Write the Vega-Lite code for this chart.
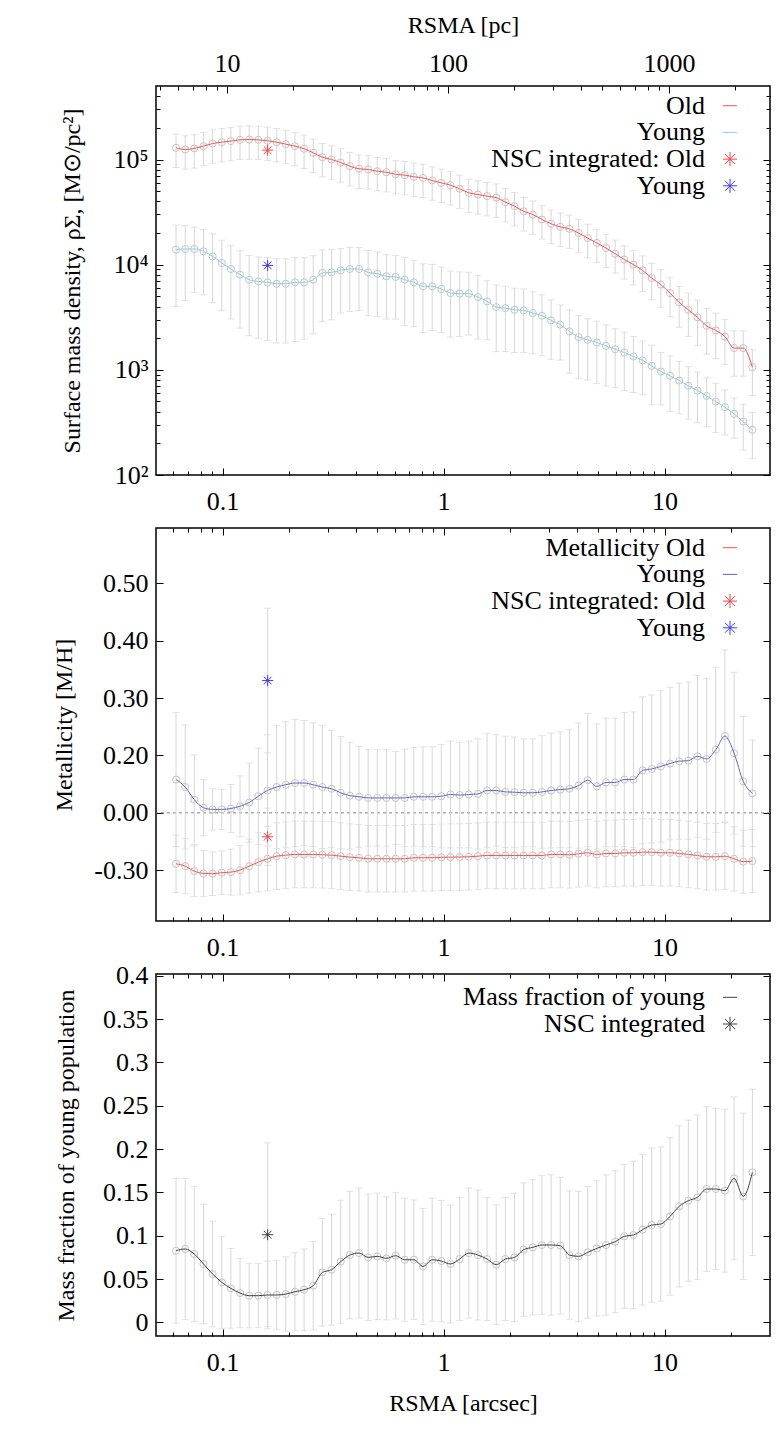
{
"$schema": "https://vega.github.io/schema/vega-lite/v6.json",
"background": "white",
"padding": {"left": 52, "top": 12, "right": 5, "bottom": 5},
"bounds": "flush",
"spacing": 53,
"resolve": {"scale": {"stroke": "independent", "shape": "independent"}, "legend": {"stroke": "independent", "shape": "independent"}},
"config": {
  "font": "Liberation Serif",
  "view": {"stroke": "#000000", "strokeWidth": 1.5},
  "axis": {"domain": false, "grid": false, "labelFont": "Liberation Serif", "labelFontSize": 26, "labelColor": "#000000", "titleFont": "Liberation Serif", "titleFontSize": 24, "titleFontWeight": "normal", "titleColor": "#000000", "tickColor": "#000000", "tickWidth": 1, "labelFlush": false, "labelOverlap": false, "labelBound": false},
  "legend": {"labelFont": "Liberation Serif", "labelFontSize": 26, "labelColor": "#000000"}
},
"datasets": {
  "dens": [
    {"r":0.0616,"old":129100,"oldErr":45200,"young":13900,"youngErr":9890},
    {"r":0.0678,"old":124500,"oldErr":43600,"young":14090,"youngErr":9520},
    {"r":0.0745,"old":127400,"oldErr":44600,"young":14090,"youngErr":8640},
    {"r":0.0820,"old":134000,"oldErr":46900,"young":13400,"youngErr":8220},
    {"r":0.0902,"old":141900,"oldErr":49700,"young":12000,"youngErr":7630},
    {"r":0.0992,"old":146200,"oldErr":51200,"young":10370,"youngErr":6700},
    {"r":0.1091,"old":149600,"oldErr":52400,"young":9100,"youngErr":6060},
    {"r":0.1200,"old":153800,"oldErr":53800,"young":8040,"youngErr":5550},
    {"r":0.1320,"old":154900,"oldErr":54200,"young":7190,"youngErr":5080},
    {"r":0.1452,"old":153800,"oldErr":53800,"young":6930,"youngErr":4930},
    {"r":0.1598,"old":150700,"oldErr":52700,"young":6790,"youngErr":4890},
    {"r":0.1758,"old":146200,"oldErr":51200,"young":6590,"youngErr":4790},
    {"r":0.1933,"old":140000,"oldErr":49000,"young":6590,"youngErr":4790},
    {"r":0.2127,"old":134000,"oldErr":46900,"young":6790,"youngErr":4930},
    {"r":0.2339,"old":126500,"oldErr":44300,"young":6790,"youngErr":4830},
    {"r":0.2573,"old":115900,"oldErr":40600,"young":7190,"youngErr":4990},
    {"r":0.2830,"old":105200,"oldErr":36800,"young":8340,"youngErr":5460},
    {"r":0.3114,"old":100000,"oldErr":35000,"young":8450,"youngErr":5460},
    {"r":0.3425,"old":93500,"oldErr":32700,"young":8830,"youngErr":5360},
    {"r":0.3767,"old":86500,"oldErr":30300,"young":9100,"youngErr":5510},
    {"r":0.4144,"old":81500,"oldErr":28500,"young":9100,"youngErr":5430},
    {"r":0.4559,"old":80400,"oldErr":28100,"young":8450,"youngErr":5180},
    {"r":0.5015,"old":77400,"oldErr":27100,"young":8200,"youngErr":4980},
    {"r":0.5516,"old":75700,"oldErr":26500,"young":7740,"youngErr":4700},
    {"r":0.6068,"old":72400,"oldErr":25300,"young":7640,"youngErr":4600},
    {"r":0.6674,"old":71000,"oldErr":24900,"young":7190,"youngErr":4570},
    {"r":0.7342,"old":68400,"oldErr":23900,"young":6790,"youngErr":4210},
    {"r":0.8076,"old":66800,"oldErr":23400,"young":6220,"youngErr":3960},
    {"r":0.8884,"old":63100,"oldErr":22100,"young":6220,"youngErr":3850},
    {"r":0.9772,"old":60000,"oldErr":21000,"young":5870,"youngErr":3610},
    {"r":1.0749,"old":57000,"oldErr":20000,"young":5370,"youngErr":3320},
    {"r":1.1824,"old":52700,"oldErr":18400,"young":5300,"youngErr":3230},
    {"r":1.3007,"old":48200,"oldErr":16900,"young":5300,"youngErr":3160},
    {"r":1.4307,"old":46500,"oldErr":16300,"young":4920,"youngErr":2960},
    {"r":1.5738,"old":44800,"oldErr":15700,"young":4480,"youngErr":2550},
    {"r":1.7312,"old":43400,"oldErr":15200,"young":3950,"youngErr":2460},
    {"r":1.9043,"old":39300,"oldErr":13800,"young":3860,"youngErr":2370},
    {"r":2.0948,"old":36000,"oldErr":12600,"young":3720,"youngErr":2260},
    {"r":2.3042,"old":32200,"oldErr":11300,"young":3670,"youngErr":2210},
    {"r":2.5347,"old":29900,"oldErr":10500,"young":3470,"youngErr":2050},
    {"r":2.7881,"old":26900,"oldErr":9400,"young":3270,"youngErr":1910},
    {"r":3.0669,"old":24500,"oldErr":8600,"young":2950,"youngErr":1690},
    {"r":3.3736,"old":22900,"oldErr":8000,"young":2690,"youngErr":1450},
    {"r":3.7110,"old":21900,"oldErr":7700,"young":2320,"youngErr":1390},
    {"r":4.0821,"old":20000,"oldErr":7000,"young":2050,"youngErr":1220},
    {"r":4.4903,"old":17900,"oldErr":6300,"young":1930,"youngErr":1130},
    {"r":4.9393,"old":16100,"oldErr":5600,"young":1820,"youngErr":1080},
    {"r":5.4333,"old":14400,"oldErr":5000,"young":1690,"youngErr":990},
    {"r":5.9766,"old":12700,"oldErr":4400,"young":1570,"youngErr":890},
    {"r":6.5742,"old":11200,"oldErr":3900,"young":1460,"youngErr":825},
    {"r":7.2317,"old":10000,"oldErr":3600,"young":1340,"youngErr":732},
    {"r":7.9548,"old":8830,"oldErr":3270,"young":1230,"youngErr":650},
    {"r":8.7503,"old":7460,"oldErr":2830,"young":1090,"youngErr":625},
    {"r":9.6253,"old":6460,"oldErr":2520,"young":964,"youngErr":500},
    {"r":10.588,"old":5370,"oldErr":2150,"young":877,"youngErr":476},
    {"r":11.647,"old":4380,"oldErr":1840,"young":791,"youngErr":410},
    {"r":12.811,"old":3720,"oldErr":1640,"young":705,"youngErr":366},
    {"r":14.092,"old":3160,"oldErr":1450,"young":635,"youngErr":320},
    {"r":15.502,"old":2620,"oldErr":1210,"young":565,"youngErr":277},
    {"r":17.052,"old":2370,"oldErr":1090,"young":499,"youngErr":246},
    {"r":18.757,"old":2070,"oldErr":950,"young":442,"youngErr":202},
    {"r":20.633,"old":1610,"oldErr":740,"young":381,"youngErr":157},
    {"r":22.696,"old":1610,"oldErr":740,"young":322,"youngErr":149},
    {"r":24.966,"old":1060,"oldErr":490,"young":269,"youngErr":125}
  ],
  "met": [
    {"r":0.0616,"old":-0.0887,"oldErr":0.050,"young":0.058,"youngErr":0.117},
    {"r":0.0678,"old":-0.0929,"oldErr":0.048,"young":0.045,"youngErr":0.108},
    {"r":0.0745,"old":-0.1016,"oldErr":0.044,"young":0.023,"youngErr":0.078},
    {"r":0.0820,"old":-0.1056,"oldErr":0.040,"young":0.009,"youngErr":0.049},
    {"r":0.0902,"old":-0.1061,"oldErr":0.038,"young":0.006,"youngErr":0.036},
    {"r":0.0992,"old":-0.1043,"oldErr":0.038,"young":0.006,"youngErr":0.035},
    {"r":0.1091,"old":-0.1033,"oldErr":0.040,"young":0.0075,"youngErr":0.042},
    {"r":0.1200,"old":-0.0998,"oldErr":0.043,"young":0.0115,"youngErr":0.053},
    {"r":0.1320,"old":-0.0929,"oldErr":0.047,"young":0.018,"youngErr":0.069},
    {"r":0.1452,"old":-0.0859,"oldErr":0.052,"young":0.029,"youngErr":0.084},
    {"r":0.1598,"old":-0.0800,"oldErr":0.056,"young":0.039,"youngErr":0.097},
    {"r":0.1758,"old":-0.0755,"oldErr":0.058,"young":0.045,"youngErr":0.107},
    {"r":0.1933,"old":-0.0737,"oldErr":0.058,"young":0.049,"youngErr":0.110},
    {"r":0.2127,"old":-0.0725,"oldErr":0.058,"young":0.052,"youngErr":0.111},
    {"r":0.2339,"old":-0.0725,"oldErr":0.058,"young":0.052,"youngErr":0.109},
    {"r":0.2573,"old":-0.0725,"oldErr":0.058,"young":0.049,"youngErr":0.108},
    {"r":0.2830,"old":-0.0730,"oldErr":0.058,"young":0.045,"youngErr":0.107},
    {"r":0.3114,"old":-0.0737,"oldErr":0.058,"young":0.042,"youngErr":0.102},
    {"r":0.3425,"old":-0.0755,"oldErr":0.058,"young":0.035,"youngErr":0.098},
    {"r":0.3767,"old":-0.0772,"oldErr":0.058,"young":0.030,"youngErr":0.093},
    {"r":0.4144,"old":-0.0783,"oldErr":0.058,"young":0.028,"youngErr":0.088},
    {"r":0.4559,"old":-0.0800,"oldErr":0.058,"young":0.026,"youngErr":0.084},
    {"r":0.5015,"old":-0.0800,"oldErr":0.058,"young":0.026,"youngErr":0.084},
    {"r":0.5516,"old":-0.0800,"oldErr":0.058,"young":0.026,"youngErr":0.084},
    {"r":0.6068,"old":-0.0800,"oldErr":0.058,"young":0.026,"youngErr":0.081},
    {"r":0.6674,"old":-0.0800,"oldErr":0.058,"young":0.026,"youngErr":0.085},
    {"r":0.7342,"old":-0.0783,"oldErr":0.058,"young":0.028,"youngErr":0.086},
    {"r":0.8076,"old":-0.0783,"oldErr":0.058,"young":0.028,"youngErr":0.087},
    {"r":0.8884,"old":-0.0783,"oldErr":0.058,"young":0.028,"youngErr":0.087},
    {"r":0.9772,"old":-0.0775,"oldErr":0.058,"young":0.029,"youngErr":0.090},
    {"r":1.0749,"old":-0.0772,"oldErr":0.058,"young":0.032,"youngErr":0.093},
    {"r":1.1824,"old":-0.0770,"oldErr":0.058,"young":0.031,"youngErr":0.092},
    {"r":1.3007,"old":-0.0766,"oldErr":0.058,"young":0.032,"youngErr":0.093},
    {"r":1.4307,"old":-0.0755,"oldErr":0.058,"young":0.033,"youngErr":0.096},
    {"r":1.5738,"old":-0.0743,"oldErr":0.058,"young":0.039,"youngErr":0.099},
    {"r":1.7312,"old":-0.0743,"oldErr":0.058,"young":0.039,"youngErr":0.097},
    {"r":1.9043,"old":-0.0743,"oldErr":0.058,"young":0.0365,"youngErr":0.097},
    {"r":2.0948,"old":-0.0743,"oldErr":0.058,"young":0.036,"youngErr":0.096},
    {"r":2.3042,"old":-0.0743,"oldErr":0.058,"young":0.035,"youngErr":0.094},
    {"r":2.5347,"old":-0.0743,"oldErr":0.058,"young":0.035,"youngErr":0.094},
    {"r":2.7881,"old":-0.0743,"oldErr":0.058,"young":0.0365,"youngErr":0.098},
    {"r":3.0669,"old":-0.0725,"oldErr":0.058,"young":0.039,"youngErr":0.100},
    {"r":3.3736,"old":-0.0725,"oldErr":0.058,"young":0.0405,"youngErr":0.101},
    {"r":3.7110,"old":-0.0731,"oldErr":0.058,"young":0.042,"youngErr":0.103},
    {"r":4.0821,"old":-0.0713,"oldErr":0.058,"young":0.0475,"youngErr":0.109},
    {"r":4.4903,"old":-0.0696,"oldErr":0.058,"young":0.057,"youngErr":0.116},
    {"r":4.9393,"old":-0.0725,"oldErr":0.058,"young":0.046,"youngErr":0.109},
    {"r":5.4333,"old":-0.0708,"oldErr":0.058,"young":0.053,"youngErr":0.112},
    {"r":5.9766,"old":-0.0708,"oldErr":0.058,"young":0.053,"youngErr":0.112},
    {"r":6.5742,"old":-0.0696,"oldErr":0.058,"young":0.058,"youngErr":0.117},
    {"r":7.2317,"old":-0.0696,"oldErr":0.058,"young":0.058,"youngErr":0.118},
    {"r":7.9548,"old":-0.0685,"oldErr":0.058,"young":0.074,"youngErr":0.128},
    {"r":8.7503,"old":-0.0685,"oldErr":0.058,"young":0.0765,"youngErr":0.129},
    {"r":9.6253,"old":-0.0696,"oldErr":0.058,"young":0.081,"youngErr":0.132},
    {"r":10.588,"old":-0.0696,"oldErr":0.058,"young":0.086,"youngErr":0.133},
    {"r":11.647,"old":-0.0708,"oldErr":0.058,"young":0.090,"youngErr":0.136},
    {"r":12.811,"old":-0.0725,"oldErr":0.058,"young":0.091,"youngErr":0.137},
    {"r":14.092,"old":-0.0743,"oldErr":0.058,"young":0.0985,"youngErr":0.141},
    {"r":15.502,"old":-0.0766,"oldErr":0.058,"young":0.094,"youngErr":0.140},
    {"r":17.052,"old":-0.0766,"oldErr":0.058,"young":0.110,"youngErr":0.144},
    {"r":18.757,"old":-0.0755,"oldErr":0.058,"young":0.134,"youngErr":0.150},
    {"r":20.633,"old":-0.0800,"oldErr":0.056,"young":0.104,"youngErr":0.141},
    {"r":22.696,"old":-0.0852,"oldErr":0.055,"young":0.055,"youngErr":0.113},
    {"r":24.966,"old":-0.0841,"oldErr":0.055,"young":0.034,"youngErr":0.093}
  ],
  "frac": [
    {"r":0.0616,"f":0.0827,"fErr":0.0835},{"r":0.0678,"f":0.0847,"fErr":0.0815},{"r":0.0745,"f":0.0789,"fErr":0.078},{"r":0.0820,"f":0.0674,"fErr":0.069},
    {"r":0.0902,"f":0.0558,"fErr":0.061},{"r":0.0992,"f":0.0462,"fErr":0.053},{"r":0.1091,"f":0.0393,"fErr":0.046},{"r":0.1200,"f":0.0339,"fErr":0.040},
    {"r":0.1320,"f":0.0308,"fErr":0.037},{"r":0.1452,"f":0.0308,"fErr":0.037},{"r":0.1598,"f":0.0316,"fErr":0.039},{"r":0.1758,"f":0.0316,"fErr":0.040},
    {"r":0.1933,"f":0.0327,"fErr":0.043},{"r":0.2127,"f":0.0354,"fErr":0.045},{"r":0.2339,"f":0.0377,"fErr":0.047},{"r":0.2573,"f":0.0424,"fErr":0.051},
    {"r":0.2830,"f":0.0577,"fErr":0.062},{"r":0.3114,"f":0.0608,"fErr":0.064},{"r":0.3425,"f":0.0700,"fErr":0.071},{"r":0.3767,"f":0.0777,"fErr":0.0735},
    {"r":0.4144,"f":0.0800,"fErr":0.075},{"r":0.4559,"f":0.0750,"fErr":0.073},{"r":0.5015,"f":0.0762,"fErr":0.073},{"r":0.5516,"f":0.0739,"fErr":0.071},
    {"r":0.6068,"f":0.0770,"fErr":0.073},{"r":0.6674,"f":0.0723,"fErr":0.071},{"r":0.7342,"f":0.0723,"fErr":0.069},{"r":0.8076,"f":0.0646,"fErr":0.067},
    {"r":0.8884,"f":0.0723,"fErr":0.071},{"r":0.9772,"f":0.0708,"fErr":0.070},{"r":1.0749,"f":0.0674,"fErr":0.068},{"r":1.1824,"f":0.0731,"fErr":0.071},
    {"r":1.3007,"f":0.0800,"fErr":0.075},{"r":1.4307,"f":0.0777,"fErr":0.075},{"r":1.5738,"f":0.0731,"fErr":0.071},{"r":1.7312,"f":0.0666,"fErr":0.069},
    {"r":1.9043,"f":0.0731,"fErr":0.071},{"r":2.0948,"f":0.0750,"fErr":0.074},{"r":2.3042,"f":0.0839,"fErr":0.077},{"r":2.5347,"f":0.0866,"fErr":0.078},
    {"r":2.7881,"f":0.0893,"fErr":0.080},{"r":3.0669,"f":0.0893,"fErr":0.081},{"r":3.3736,"f":0.0885,"fErr":0.079},{"r":3.7110,"f":0.0777,"fErr":0.074},
    {"r":4.0821,"f":0.0762,"fErr":0.075},{"r":4.4903,"f":0.0808,"fErr":0.076},{"r":4.9393,"f":0.0854,"fErr":0.078},{"r":5.4333,"f":0.0893,"fErr":0.081},
    {"r":5.9766,"f":0.0931,"fErr":0.082},{"r":6.5742,"f":0.0993,"fErr":0.083},{"r":7.2317,"f":0.1008,"fErr":0.085},{"r":7.9548,"f":0.1070,"fErr":0.087},
    {"r":8.7503,"f":0.1123,"fErr":0.089},{"r":9.6253,"f":0.1135,"fErr":0.089},{"r":10.588,"f":0.1223,"fErr":0.091},{"r":11.647,"f":0.1339,"fErr":0.093},
    {"r":12.811,"f":0.1404,"fErr":0.093},{"r":14.092,"f":0.1443,"fErr":0.095},{"r":15.502,"f":0.1539,"fErr":0.095},{"r":17.052,"f":0.1539,"fErr":0.093},
    {"r":18.757,"f":0.1520,"fErr":0.094},{"r":20.633,"f":0.1662,"fErr":0.094},{"r":22.696,"f":0.1454,"fErr":0.096},{"r":24.966,"f":0.1731,"fErr":0.096}
  ],
  "nscDens": [
    {"r":0.16,"s":"NSC integrated: Old","v":122700},
    {"r":0.16,"s":"NSC Young","v":9840}
  ],
  "nscMet": [
    {"r":0.16,"s":"NSC integrated: Old","v":-0.0417,"e":0.05},
    {"r":0.16,"s":"NSC Young","v":0.2306,"e":0.126}
  ],
  "nscFrac": [
    {"r":0.16,"s":"NSC integrated","v":0.1012,"e":0.106}
  ],
  "zeroLine": [{"z": 0}]
},
"vconcat": [
{
  "width": 614, "height": 389,
  "resolve": {"axis": {"x": "independent", "y": "independent"}},
  "layer": [
    {"data": {"name": "dens"}, "mark": {"type": "errorbar", "ticks": {"size": 7}, "color": "#d6d6d6"},
     "encoding": {
       "x": {"field": "r", "type": "quantitative", "scale": {"type": "log", "domain": [0.05, 30], "nice": false}, "axis": {"orient": "bottom", "values": [0.1, 1, 10], "tickSize": -7, "labelPadding": 20, "title": null, "labelExpr": "datum.value == 0.1 ? '0.1' : datum.value == 1 ? '1' : '10'"}},
       "y": {"field": "old", "type": "quantitative", "scale": {"type": "log", "domain": [100, 500000], "nice": false}, "axis": {"orient": "left", "values": [100, 1000, 10000, 100000], "tickSize": -7, "labelPadding": 15, "titlePadding": 28, "title": "Surface mass density, ρΣ, [M⊙/pc²]", "labelExpr": "datum.value == 100 ? '10²' : datum.value == 1000 ? '10³' : datum.value == 10000 ? '10⁴' : '10⁵'"}},
       "yError": {"field": "oldErr"}}},
    {"data": {"name": "dens"}, "mark": {"type": "errorbar", "ticks": {"size": 7}, "color": "#d6d6d6"},
     "encoding": {
       "x": {"field": "r", "type": "quantitative", "axis": {"orient": "bottom", "values": [0.06, 0.07, 0.08, 0.09, 0.2, 0.3, 0.4, 0.5, 0.6, 0.7, 0.8, 0.9, 2, 3, 4, 5, 6, 7, 8, 9, 20], "tickSize": -4, "labels": false, "title": null}},
       "y": {"field": "young", "type": "quantitative", "axis": {"orient": "left", "values": [200, 300, 400, 500, 600, 700, 800, 900, 2000, 3000, 4000, 5000, 6000, 7000, 8000, 9000, 20000, 30000, 40000, 50000, 60000, 70000, 80000, 90000, 200000, 300000, 400000], "tickSize": -4, "labels": false, "title": null}},
       "yError": {"field": "youngErr"}}},
    {"data": {"name": "dens"}, "mark": {"type": "point", "filled": false, "size": 50, "stroke": "#c4c4c4", "strokeWidth": 1, "opacity": 1},
     "encoding": {
       "x": {"field": "r", "type": "quantitative", "axis": {"orient": "top", "values": [0.104712, 1.04712, 10.4712], "tickSize": -7, "labelPadding": 17, "titlePadding": 13, "title": "RSMA [pc]", "labelExpr": "datum.value < 0.5 ? '10' : datum.value < 5 ? '100' : '1000'"}},
       "y": {"field": "old", "type": "quantitative", "axis": {"orient": "right", "values": [100, 1000, 10000, 100000], "tickSize": -7, "labels": false, "title": null}}}},
    {"data": {"name": "dens"}, "mark": {"type": "point", "filled": false, "size": 50, "stroke": "#c4c4c4", "strokeWidth": 1, "opacity": 1},
     "encoding": {
       "x": {"field": "r", "type": "quantitative", "axis": {"orient": "top", "values": [0.05236, 0.06283, 0.0733, 0.08377, 0.09424, 0.20942, 0.31414, 0.41885, 0.52356, 0.62827, 0.73298, 0.8377, 0.94241, 2.0942, 3.1414, 4.1885, 5.2356, 6.2827, 7.3298, 8.377, 9.4241, 20.942], "tickSize": -4, "labels": false, "title": null}},
       "y": {"field": "young", "type": "quantitative", "axis": {"orient": "right", "values": [200, 300, 400, 500, 600, 700, 800, 900, 2000, 3000, 4000, 5000, 6000, 7000, 8000, 9000, 20000, 30000, 40000, 50000, 60000, 70000, 80000, 90000, 200000, 300000, 400000], "tickSize": -4, "labels": false, "title": null}}}},
    {"data": {"name": "dens"}, "mark": {"type": "line", "interpolate": "monotone", "strokeWidth": 1},
     "encoding": {
       "x": {"field": "r", "type": "quantitative", "axis": null},
       "y": {"field": "old", "type": "quantitative", "axis": null},
       "stroke": {"datum": "Old", "type": "nominal", "scale": {"domain": ["Old", "Young", "NSC integrated: Old", "NSC Young"], "range": ["#ff5050", "#87ceeb", "#ff4040", "#3a3aff"]},
         "legend": {"orient": "none", "legendX": 561, "legendY": 6.7, "title": null, "labelAlign": "right", "labelOffset": -38, "symbolOffset": 0, "labelLimit": 0, "symbolSize": 200, "symbolStrokeWidth": 1, "rowPadding": 0.7, "labelExpr": "datum.label == 'NSC Young' ? 'Young' : datum.label"}}}},
    {"data": {"name": "dens"}, "mark": {"type": "line", "interpolate": "monotone", "strokeWidth": 1},
     "encoding": {
       "x": {"field": "r", "type": "quantitative", "axis": null},
       "y": {"field": "young", "type": "quantitative", "axis": null},
       "stroke": {"datum": "Young", "type": "nominal"}}},
    {"data": {"name": "nscDens"}, "mark": {"type": "point", "filled": false, "size": 121, "strokeWidth": 1, "opacity": 1},
     "encoding": {
       "x": {"field": "r", "type": "quantitative", "axis": null},
       "y": {"field": "v", "type": "quantitative", "axis": null},
       "stroke": {"field": "s", "type": "nominal"},
       "shape": {"field": "s", "type": "nominal", "scale": {"domain": ["Old", "Young", "NSC integrated: Old", "NSC Young"], "range": ["M-1,0L1,0", "M-1,0L1,0", "M-1,0L1,0M0,-1L0,1M-0.7,-0.7L0.7,0.7M-0.7,0.7L0.7,-0.7", "M-1,0L1,0M0,-1L0,1M-0.7,-0.7L0.7,0.7M-0.7,0.7L0.7,-0.7"]},
         "legend": {"orient": "none", "legendX": 561, "legendY": 6.7, "title": null, "labelAlign": "right", "labelOffset": -38, "symbolOffset": 0, "labelLimit": 0, "symbolSize": 200, "symbolStrokeWidth": 1, "rowPadding": 0.7, "labelExpr": "datum.label == 'NSC Young' ? 'Young' : datum.label"}}}}
  ]
},
{
  "width": 614, "height": 393,
  "resolve": {"axis": {"x": "independent", "y": "independent"}},
  "layer": [
    {"data": {"name": "zeroLine"}, "mark": {"type": "rule", "stroke": "#808080", "strokeDash": [3, 3], "strokeWidth": 1},
     "encoding": {"y": {"field": "z", "type": "quantitative", "scale": {"domain": [-0.1885, 0.4965], "nice": false, "zero": false}, "axis": null}}},
    {"data": {"name": "met"}, "mark": {"type": "errorbar", "ticks": {"size": 7}, "color": "#d6d6d6"},
     "encoding": {
       "x": {"field": "r", "type": "quantitative", "scale": {"type": "log", "domain": [0.05, 30], "nice": false}, "axis": {"orient": "bottom", "values": [0.1, 1, 10], "tickSize": -7, "labelPadding": 20, "title": null, "labelExpr": "datum.value == 0.1 ? '0.1' : datum.value == 1 ? '1' : '10'"}},
       "y": {"field": "old", "type": "quantitative", "axis": {"orient": "left", "values": [-0.1, 0, 0.1, 0.2, 0.3, 0.4], "tickSize": -7, "labelPadding": 15, "titlePadding": 17, "title": "Metallicity [M/H]", "labelExpr": "datum.value < -0.05 ? '-0.30' : datum.value < 0.05 ? '0.00' : datum.value < 0.15 ? '0.20' : datum.value < 0.25 ? '0.30' : datum.value < 0.35 ? '0.40' : '0.50'"}},
       "yError": {"field": "oldErr"}}},
    {"data": {"name": "met"}, "mark": {"type": "errorbar", "ticks": {"size": 7}, "color": "#d6d6d6"},
     "encoding": {
       "x": {"field": "r", "type": "quantitative", "axis": {"orient": "bottom", "values": [0.06, 0.07, 0.08, 0.09, 0.2, 0.3, 0.4, 0.5, 0.6, 0.7, 0.8, 0.9, 2, 3, 4, 5, 6, 7, 8, 9, 20], "tickSize": -4, "labels": false, "title": null}},
       "y": {"field": "young", "type": "quantitative", "axis": {"orient": "right", "values": [-0.1, 0, 0.1, 0.2, 0.3, 0.4], "tickSize": -7, "labels": false, "title": null}},
       "yError": {"field": "youngErr"}}},
    {"data": {"name": "nscMet"}, "mark": {"type": "errorbar", "ticks": {"size": 7}, "color": "#d6d6d6"},
     "encoding": {
       "x": {"field": "r", "type": "quantitative", "axis": {"orient": "top", "values": [0.1, 1, 10], "tickSize": -7, "labels": false, "title": null}},
       "y": {"field": "v", "type": "quantitative", "axis": null},
       "yError": {"field": "e"}}},
    {"data": {"name": "met"}, "mark": {"type": "point", "filled": false, "size": 50, "stroke": "#c4c4c4", "strokeWidth": 1, "opacity": 1},
     "encoding": {
       "x": {"field": "r", "type": "quantitative", "axis": {"orient": "top", "values": [0.06, 0.07, 0.08, 0.09, 0.2, 0.3, 0.4, 0.5, 0.6, 0.7, 0.8, 0.9, 2, 3, 4, 5, 6, 7, 8, 9, 20], "tickSize": -4, "labels": false, "title": null}},
       "y": {"field": "old", "type": "quantitative", "axis": null}}},
    {"data": {"name": "met"}, "mark": {"type": "point", "filled": false, "size": 50, "stroke": "#c4c4c4", "strokeWidth": 1, "opacity": 1},
     "encoding": {
       "x": {"field": "r", "type": "quantitative", "axis": null},
       "y": {"field": "young", "type": "quantitative", "axis": null}}},
    {"data": {"name": "met"}, "mark": {"type": "line", "interpolate": "monotone", "strokeWidth": 1},
     "encoding": {
       "x": {"field": "r", "type": "quantitative", "axis": null},
       "y": {"field": "old", "type": "quantitative", "axis": null},
       "stroke": {"datum": "Metallicity Old", "type": "nominal", "scale": {"domain": ["Metallicity Old", "Young", "NSC integrated: Old", "NSC Young"], "range": ["#ff5050", "#6464c8", "#ff4040", "#3a3aff"]},
         "legend": {"orient": "none", "legendX": 561, "legendY": 6.7, "title": null, "labelAlign": "right", "labelOffset": -38, "symbolOffset": 0, "labelLimit": 0, "symbolSize": 200, "symbolStrokeWidth": 1, "rowPadding": 0.7, "labelExpr": "datum.label == 'NSC Young' ? 'Young' : datum.label"}}}},
    {"data": {"name": "met"}, "mark": {"type": "line", "interpolate": "monotone", "strokeWidth": 1},
     "encoding": {
       "x": {"field": "r", "type": "quantitative", "axis": null},
       "y": {"field": "young", "type": "quantitative", "axis": null},
       "stroke": {"datum": "Young", "type": "nominal"}}},
    {"data": {"name": "nscMet"}, "mark": {"type": "point", "filled": false, "size": 121, "strokeWidth": 1, "opacity": 1},
     "encoding": {
       "x": {"field": "r", "type": "quantitative", "axis": null},
       "y": {"field": "v", "type": "quantitative", "axis": null},
       "stroke": {"field": "s", "type": "nominal"},
       "shape": {"field": "s", "type": "nominal", "scale": {"domain": ["Metallicity Old", "Young", "NSC integrated: Old", "NSC Young"], "range": ["M-1,0L1,0", "M-1,0L1,0", "M-1,0L1,0M0,-1L0,1M-0.7,-0.7L0.7,0.7M-0.7,0.7L0.7,-0.7", "M-1,0L1,0M0,-1L0,1M-0.7,-0.7L0.7,0.7M-0.7,0.7L0.7,-0.7"]},
         "legend": {"orient": "none", "legendX": 561, "legendY": 6.7, "title": null, "labelAlign": "right", "labelOffset": -38, "symbolOffset": 0, "labelLimit": 0, "symbolSize": 200, "symbolStrokeWidth": 1, "rowPadding": 0.7, "labelExpr": "datum.label == 'NSC Young' ? 'Young' : datum.label"}}}}
  ]
},
{
  "width": 614, "height": 362,
  "resolve": {"axis": {"x": "independent", "y": "independent"}},
  "layer": [
    {"data": {"name": "frac"}, "mark": {"type": "errorbar", "ticks": {"size": 7}, "color": "#d6d6d6"},
     "encoding": {
       "x": {"field": "r", "type": "quantitative", "scale": {"type": "log", "domain": [0.05, 30], "nice": false}, "axis": {"orient": "bottom", "values": [0.1, 1, 10], "tickSize": -7, "labelPadding": 20, "titlePadding": 16, "title": "RSMA [arcsec]", "labelExpr": "datum.value == 0.1 ? '0.1' : datum.value == 1 ? '1' : '10'"}},
       "y": {"field": "f", "type": "quantitative", "scale": {"domain": [-0.0157, 0.402], "nice": false, "zero": false}, "axis": {"orient": "left", "values": [0, 0.05, 0.1, 0.15, 0.2, 0.25, 0.3, 0.35, 0.4], "tickSize": -7, "labelPadding": 15, "titlePadding": 24, "title": "Mass fraction of young population", "labelExpr": "'' + datum.value"}},
       "yError": {"field": "fErr"}}},
    {"data": {"name": "nscFrac"}, "mark": {"type": "errorbar", "ticks": {"size": 7}, "color": "#d6d6d6"},
     "encoding": {
       "x": {"field": "r", "type": "quantitative", "axis": {"orient": "bottom", "values": [0.06, 0.07, 0.08, 0.09, 0.2, 0.3, 0.4, 0.5, 0.6, 0.7, 0.8, 0.9, 2, 3, 4, 5, 6, 7, 8, 9, 20], "tickSize": -4, "labels": false, "title": null}},
       "y": {"field": "v", "type": "quantitative", "axis": {"orient": "right", "values": [0, 0.05, 0.1, 0.15, 0.2, 0.25, 0.3, 0.35, 0.4], "tickSize": -7, "labels": false, "title": null}},
       "yError": {"field": "e"}}},
    {"data": {"name": "frac"}, "mark": {"type": "point", "filled": false, "size": 50, "stroke": "#c4c4c4", "strokeWidth": 1, "opacity": 1},
     "encoding": {
       "x": {"field": "r", "type": "quantitative", "axis": {"orient": "top", "values": [0.1, 1, 10], "tickSize": -7, "labels": false, "title": null}},
       "y": {"field": "f", "type": "quantitative", "axis": null}}},
    {"data": {"name": "frac"}, "mark": {"type": "line", "interpolate": "monotone", "strokeWidth": 1},
     "encoding": {
       "x": {"field": "r", "type": "quantitative", "axis": {"orient": "top", "values": [0.06, 0.07, 0.08, 0.09, 0.2, 0.3, 0.4, 0.5, 0.6, 0.7, 0.8, 0.9, 2, 3, 4, 5, 6, 7, 8, 9, 20], "tickSize": -4, "labels": false, "title": null}},
       "y": {"field": "f", "type": "quantitative", "axis": null},
       "stroke": {"datum": "Mass fraction of young", "type": "nominal", "scale": {"domain": ["Mass fraction of young", "NSC integrated"], "range": ["#404040", "#404040"]},
         "legend": {"orient": "none", "legendX": 561, "legendY": 10.3, "title": null, "labelAlign": "right", "labelOffset": -38, "symbolOffset": 0, "labelLimit": 0, "symbolSize": 200, "symbolStrokeWidth": 1, "rowPadding": 0.7}}}},
    {"data": {"name": "nscFrac"}, "mark": {"type": "point", "filled": false, "size": 121, "strokeWidth": 1, "opacity": 1},
     "encoding": {
       "x": {"field": "r", "type": "quantitative", "axis": null},
       "y": {"field": "v", "type": "quantitative", "axis": null},
       "stroke": {"field": "s", "type": "nominal"},
       "shape": {"field": "s", "type": "nominal", "scale": {"domain": ["Mass fraction of young", "NSC integrated"], "range": ["M-1,0L1,0", "M-1,0L1,0M0,-1L0,1M-0.7,-0.7L0.7,0.7M-0.7,0.7L0.7,-0.7"]},
         "legend": {"orient": "none", "legendX": 561, "legendY": 10.3, "title": null, "labelAlign": "right", "labelOffset": -38, "symbolOffset": 0, "labelLimit": 0, "symbolSize": 200, "symbolStrokeWidth": 1, "rowPadding": 0.7}}}}
  ]
}
]
}
